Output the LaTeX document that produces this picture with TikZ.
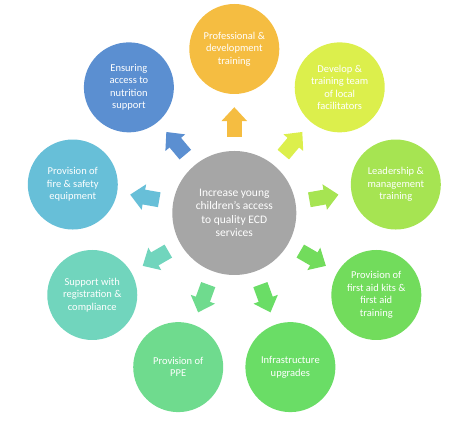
\documentclass[tikz,border=0pt]{standalone}
\usepackage{fontspec}
\setmainfont{Carlito}
\usepackage{xcolor}
\usepackage{tikz}
\usetikzlibrary{arrows.meta,calc}

\definecolor{hubgray}{HTML}{A6A6A6}
\definecolor{profcol}{HTML}{F5BD41}
\definecolor{facilcol}{HTML}{DCEF4C}
\definecolor{leadcol}{HTML}{A6E452}
\definecolor{aidcol}{HTML}{72DC5C}
\definecolor{infracol}{HTML}{6ADD66}
\definecolor{ppecol}{HTML}{6FDB8E}
\definecolor{regcol}{HTML}{71D5BD}
\definecolor{firecol}{HTML}{67BFD8}
\definecolor{nutcol}{HTML}{5B8FD1}

\tikzset{
  goal/.style={circle, fill=#1, draw=none, minimum size=90pt, inner sep=0pt,
    text=white, align=center, font=\fontsize{10.5}{12.5}\selectfont},
  blockarrow/.style={draw=#1, line width=15pt, -{Triangle[width=25pt,length=14pt]},
    shorten <=14pt, shorten >=13pt}
}

\begin{document}
\begin{tikzpicture}[x=1pt, y=1pt]
\useasboundingbox (0,0) rectangle (474,422);

\node[circle, fill=hubgray, minimum size=124pt, inner sep=0pt, text=white, align=center,
  font=\fontsize{11.5}{13.3}\selectfont] (hub) at (234.3,209)
  {Increase young\\children’s access\\to quality ECD\\services};

\node[goal=profcol] (profdev) at ($(hub)+(90:164)$) {Professional \&\\development\\training};
\node[goal=facilcol] (facil) at ($(hub)+(50:164)$) {Develop \&\\training team\\of local\\facilitators};
\node[goal=leadcol] (leader) at ($(hub)+(10:164)$) {Leadership \&\\management\\training};
\node[goal=aidcol] (firstaid) at ($(hub)+(-30:164)$) {Provision of\\first aid kits \&\\first aid\\training};
\node[goal=infracol] (infra) at ($(hub)+(-70:164)$) {Infrastructure\\upgrades};
\node[goal=ppecol] (ppe) at ($(hub)+(-110:164)$) {Provision of\\PPE};
\node[goal=regcol] (regist) at ($(hub)+(-150:164)$) {Support with\\registration \&\\compliance};
\node[goal=firecol] (fire) at ($(hub)+(170:164)$) {Provision of\\fire \& safety\\equipment};
\node[goal=nutcol] (nutrition) at ($(hub)+(130:164)$) {Ensuring\\access to\\nutrition\\support};

\draw[blockarrow=profcol] (hub) -- (profdev);
\draw[blockarrow=facilcol] (hub) -- (facil);
\draw[blockarrow=leadcol] (hub) -- (leader);
\draw[blockarrow=aidcol] (hub) -- (firstaid);
\draw[blockarrow=infracol] (hub) -- (infra);
\draw[blockarrow=ppecol] (hub) -- (ppe);
\draw[blockarrow=regcol] (hub) -- (regist);
\draw[blockarrow=firecol] (hub) -- (fire);
\draw[blockarrow=nutcol] (hub) -- (nutrition);
\end{tikzpicture}
\end{document}
